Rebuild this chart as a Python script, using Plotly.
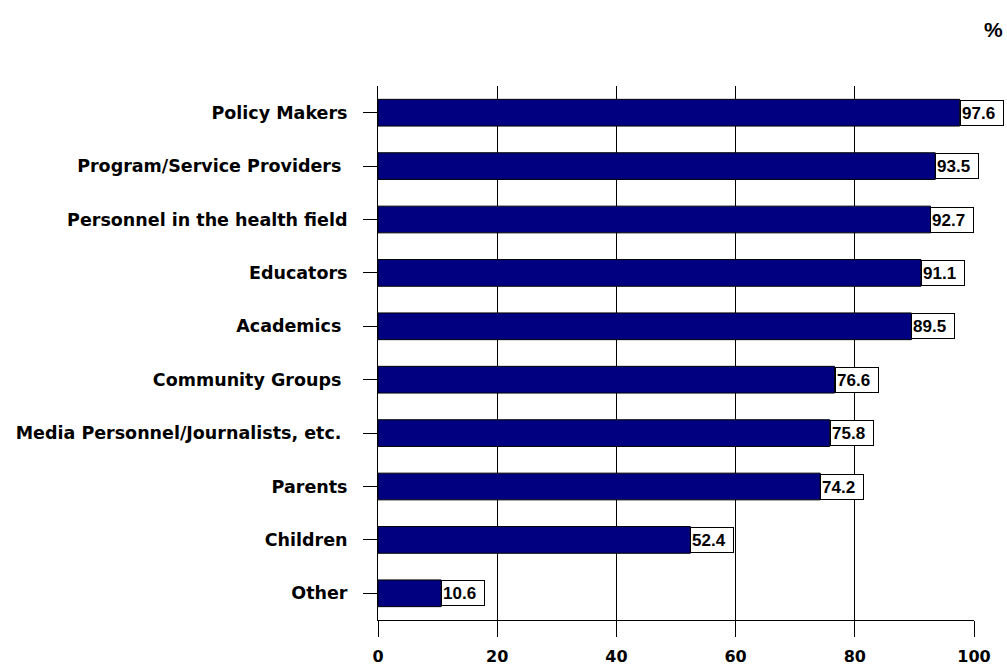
import plotly.graph_objects as go

categories = [
    "Policy Makers",
    "Program/Service Providers\u00a0",
    "Personnel in the health field",
    "Educators",
    "Academics\u00a0",
    "Community Groups\u00a0",
    "Media Personnel/Journalists, etc.\u00a0",
    "Parents",
    "Children",
    "Other",
]
values = [97.6, 93.5, 92.7, 91.1, 89.5, 76.6, 75.8, 74.2, 52.4, 10.6]
value_labels = ["97.6", "93.5", "92.7", "91.1", "89.5", "76.6", "75.8", "74.2", "52.4", "10.6"]
x_ticks = [0, 20, 40, 60, 80, 100]

FONT = "Liberation Sans, Arial, sans-serif"
WIDE = "DejaVu Sans, Liberation Sans, sans-serif"

fig = go.Figure()
fig.add_trace(go.Bar(
    x=values,
    y=categories,
    orientation="h",
    marker=dict(color="#000080", line=dict(color="black", width=1)),
    hoverinfo="skip",
))

for v, lab, cat in zip(values, value_labels, categories):
    fig.add_annotation(
        x=v, y=cat, xref="x", yref="y",
        text="<b>" + lab + "</b>",
        showarrow=False,
        xanchor="left", yanchor="middle",
        align="left",
        width=40, height=22,
        bgcolor="white", bordercolor="black", borderwidth=1, borderpad=1,
        font=dict(family=FONT, size=17, color="black"),
    )

fig.add_annotation(
    x=1.033, y=1.105, xref="paper", yref="paper",
    xanchor="center", yanchor="middle",
    text="<b>%</b>", showarrow=False,
    font=dict(family=FONT, size=21, color="black"),
)

fig.update_layout(
    width=1007, height=666,
    margin=dict(l=378, r=33, t=86, b=46),
    paper_bgcolor="white", plot_bgcolor="white",
    showlegend=False,
    bargap=0.5,
    xaxis=dict(
        range=[0, 100],
        automargin=False,
        tickvals=x_ticks,
        ticktext=["<b>%d</b>" % t for t in x_ticks],
        showgrid=True, gridcolor="black", gridwidth=1,
        showline=True, linecolor="black", linewidth=1,
        ticks="outside", ticklen=16, tickcolor="black", tickwidth=1,
        ticklabelstandoff=6,
        tickfont=dict(family=WIDE, size=16, color="black"),
        zeroline=False,
        fixedrange=True,
    ),
    yaxis=dict(
        categoryorder="array", categoryarray=categories,
        autorange="reversed",
        automargin=False,
        showgrid=False,
        showline=True, linecolor="black", linewidth=1,
        ticks="outside", ticklen=14, tickcolor="black", tickwidth=1,
        ticklabelstandoff=12,
        tickfont=dict(family=WIDE, size=17.5, color="black"),
        tickvals=categories,
        ticktext=["<b>" + c + "</b>" for c in categories],
        fixedrange=True,
    ),
)

fig.write_html("out.html")
